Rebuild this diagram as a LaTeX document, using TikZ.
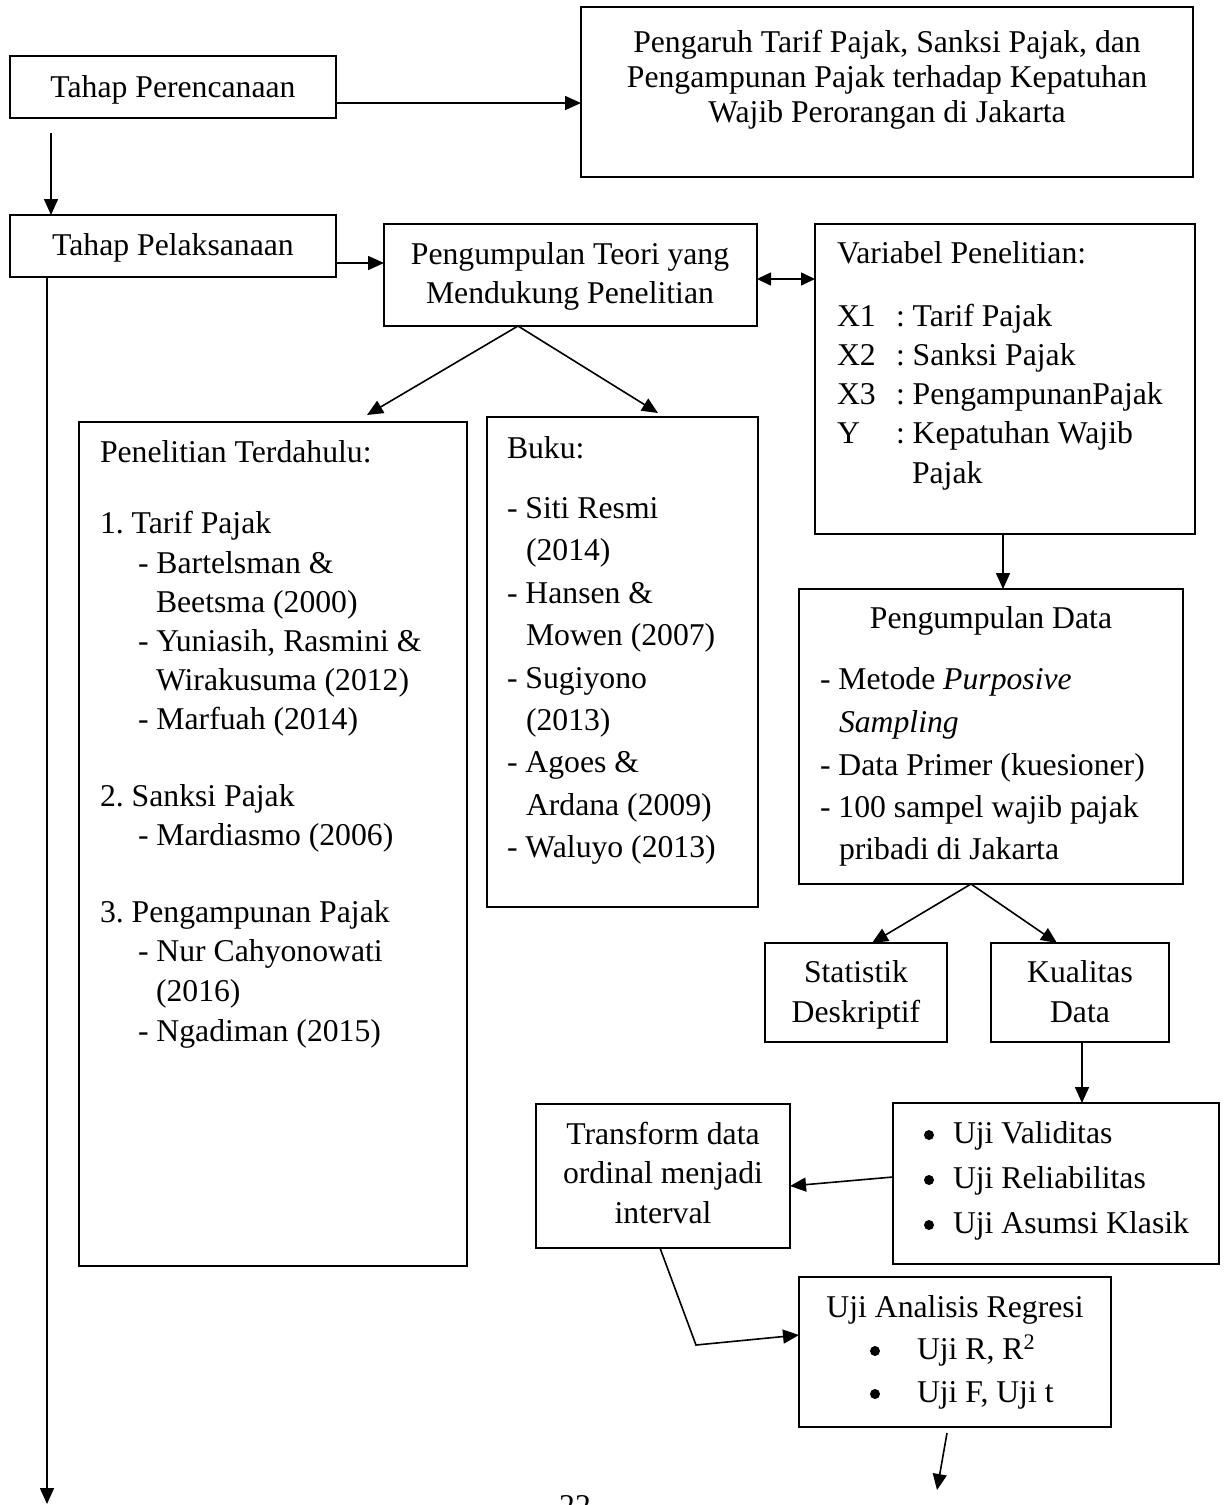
\documentclass[tikz,border=0pt]{standalone}
\usepackage{fontspec}
\setmainfont{Liberation Serif}
\usetikzlibrary{arrows.meta}
\frenchspacing
\newcommand\mybox[5]{\node[box, minimum width={#4pt-#2pt}, minimum height={#5pt-#3pt}] (#1) at ({(#2+#4)/2},{(#3+#5)/2}) {};}
\begin{document}
\begin{tikzpicture}[x=1pt,y=-1pt,
  box/.style={draw=black,line width=1.5pt,inner sep=0pt,outer sep=0pt},
  txt/.style={inner sep=0pt,outer sep=0pt,font=\fontsize{31.7}{39}\selectfont\frenchspacing},
  L/.style={txt,anchor=base west},
  C/.style={txt,anchor=base},
  bul/.style={circle,fill=black,inner sep=0pt,minimum size=10pt},
  arr/.style={line width=1.6pt,-{Triangle[length=16pt,width=14pt]}},
  dbl/.style={line width=1.6pt,{Triangle[length=14pt,width=13pt]}-{Triangle[length=14pt,width=13pt]}}]
\useasboundingbox (0,0) rectangle (1230,1505);

% boxes
\mybox{perenc}{10}{56}{336}{118}
\mybox{title}{581}{7}{1193}{177}
\mybox{pelak}{10}{215}{336}{277}
\mybox{teori}{384}{224}{757}{326}
\mybox{var}{815}{224}{1195}{534}
\mybox{pen}{79}{422}{467}{1266}
\mybox{buku}{487}{417}{758}{907}
\mybox{pdata}{799}{589}{1183}{884}
\mybox{stat}{765}{943}{947}{1042}
\mybox{kual}{991}{943}{1169}{1042}
\mybox{uji}{893}{1103}{1219}{1264}
\mybox{trans}{536}{1104}{790}{1248}
\mybox{reg}{799}{1277}{1111}{1427}

% texts
\node[C] (tPer) at (173,97) {Tahap Perencanaan};
\node[C] (tTi1) at (887,52) {Pengaruh Tarif Pajak, Sanksi Pajak, dan};
\node[C] (tTi2) at (887,87) {Pengampunan Pajak terhadap Kepatuhan};
\node[C] (tTi3) at (887,122) {Wajib Perorangan di Jakarta};
\node[C] (tPel) at (173,255) {Tahap Pelaksanaan};
\node[C] (tTe1) at (570,264) {Pengumpulan Teori yang};
\node[C] (tTe2) at (570,303) {Mendukung Penelitian};

\node[L] (tVa0) at (837,263) {Variabel Penelitian:};
\node[L] (tVa1) at (837,326) {X1};
\node[L] (tVa1b) at (896,326) {: Tarif Pajak};
\node[L] (tVa2) at (837,365) {X2};
\node[L] (tVa2b) at (896,365) {: Sanksi Pajak};
\node[L] (tVa3) at (837,404) {X3};
\node[L] (tVa3b) at (896,404) {: PengampunanPajak};
\node[L] (tVa4) at (837,443) {Y};
\node[L] (tVa4b) at (896,443) {: Kepatuhan Wajib};
\node[L] (tVa5) at (912,483) {Pajak};

\node[L] (tPe0) at (100,462) {Penelitian Terdahulu:};
\node[L] (tPe1) at (100,533) {1. Tarif Pajak};
\node[L] (tPe2) at (138,573) {- Bartelsman \&};
\node[L] (tPe3) at (156,612) {Beetsma (2000)};
\node[L] (tPe4) at (138,651) {- Yuniasih, Rasmini \&};
\node[L] (tPe5) at (156,690) {Wirakusuma (2012)};
\node[L] (tPe6) at (138,729) {- Marfuah (2014)};
\node[L] (tPe7) at (100,806) {2. Sanksi Pajak};
\node[L] (tPe8) at (138,845) {- Mardiasmo (2006)};
\node[L] (tPe9) at (100,922) {3. Pengampunan Pajak};
\node[L] (tPe10) at (138,961) {- Nur Cahyonowati};
\node[L] (tPe11) at (156,1001) {(2016)};
\node[L] (tPe12) at (138,1041) {- Ngadiman (2015)};

\node[L] (tBu0) at (507,458) {Buku:};
\node[L] (tBu1) at (507,518) {- Siti Resmi};
\node[L] (tBu2) at (526,560) {(2014)};
\node[L] (tBu3) at (507,603) {- Hansen \&};
\node[L] (tBu4) at (526,645) {Mowen (2007)};
\node[L] (tBu5) at (507,688) {- Sugiyono};
\node[L] (tBu6) at (526,730) {(2013)};
\node[L] (tBu7) at (507,772) {- Agoes \&};
\node[L] (tBu8) at (526,815) {Ardana (2009)};
\node[L] (tBu9) at (507,857) {- Waluyo (2013)};

\node[C] (tPd0) at (991,628) {Pengumpulan Data};
\node[L] (tPd1) at (820,689) {- Metode \textit{Purposive}};
\node[L] (tPd2) at (839,732) {\textit{Sampling}};
\node[L] (tPd3) at (820,775) {- Data Primer (kuesioner)};
\node[L] (tPd4) at (820,817) {- 100 sampel wajib pajak};
\node[L] (tPd5) at (839,859) {pribadi di Jakarta};

\node[C] (tSt1) at (856,982) {Statistik};
\node[C] (tSt2) at (856,1022) {Deskriptif};
\node[C] (tKu1) at (1080,982) {Kualitas};
\node[C] (tKu2) at (1080,1022) {Data};

\node[bul] (bU1) at (929,1135) {};
\node[L] (tU1) at (953,1143) {Uji Validitas};
\node[bul] (bU2) at (929,1180) {};
\node[L] (tU2) at (953,1188) {Uji Reliabilitas};
\node[bul] (bU3) at (929,1225) {};
\node[L] (tU3) at (953,1233) {Uji Asumsi Klasik};

\node[C] (tTr1) at (663,1144) {Transform data};
\node[C] (tTr2) at (663,1183) {ordinal menjadi};
\node[C] (tTr3) at (663,1223) {interval};

\node[C] (tRe0) at (955,1317) {Uji Analisis Regresi};
\node[bul] (bR1) at (875,1351) {};
\node[L] (tRe1) at (917,1359) {Uji R, R\textsuperscript{2}};
\node[bul] (bR2) at (875,1394) {};
\node[L] (tRe2) at (917,1402) {Uji F, Uji t};

\node[C] (pg) at (575,1516) {22};

% connectors
\coordinate (c1) at ([yshift=-16pt]perenc.east);
\draw[arr] (c1) -- (c1 -| title.west);
\draw[arr] ([xshift=41pt,yshift=-15pt]perenc.south west) -- ([xshift=41pt]pelak.north west);
\coordinate (c3) at ([yshift=-17pt]pelak.east);
\draw[arr] (c3) -- (c3 -| teori.west);
\coordinate (c4) at ([yshift=-4pt]teori.east);
\draw[dbl] (c4) -- (c4 -| var.west);
\draw[arr] ([xshift=-52.5pt]teori.south) -- ([xshift=94pt,yshift=7pt]pen.north);
\draw[arr] ([xshift=-52.5pt]teori.south) -- ([xshift=35.5pt,yshift=4pt]buku.north);
\coordinate (c6) at ([xshift=-2pt]var.south);
\draw[arr] (c6) -- (c6 |- pdata.north);
\draw[arr] ([xshift=-20pt]pdata.south) -- ([xshift=16pt]stat.north);
\draw[arr] ([xshift=-20pt]pdata.south) -- ([xshift=-23pt]kual.north);
\coordinate (c8) at ([xshift=2pt]kual.south);
\draw[arr] (c8) -- (c8 |- uji.north);
\draw[arr] ([yshift=6.5pt]uji.west) -- ([yshift=-10pt]trans.east);
\coordinate (bend) at (696,1345);
\draw[arr,line join=miter] ([xshift=-3pt]trans.south) -- (bend) -- ([yshift=17pt]reg.west);
\coordinate (endR) at (937,1490);
\draw[arr] ([xshift=-8pt,yshift=-6pt]reg.south) -- (endR);
\coordinate (endL) at (47,1504);
\draw[arr] ([xshift=37pt]pelak.south west) -- (endL);
\end{tikzpicture}
\end{document}
